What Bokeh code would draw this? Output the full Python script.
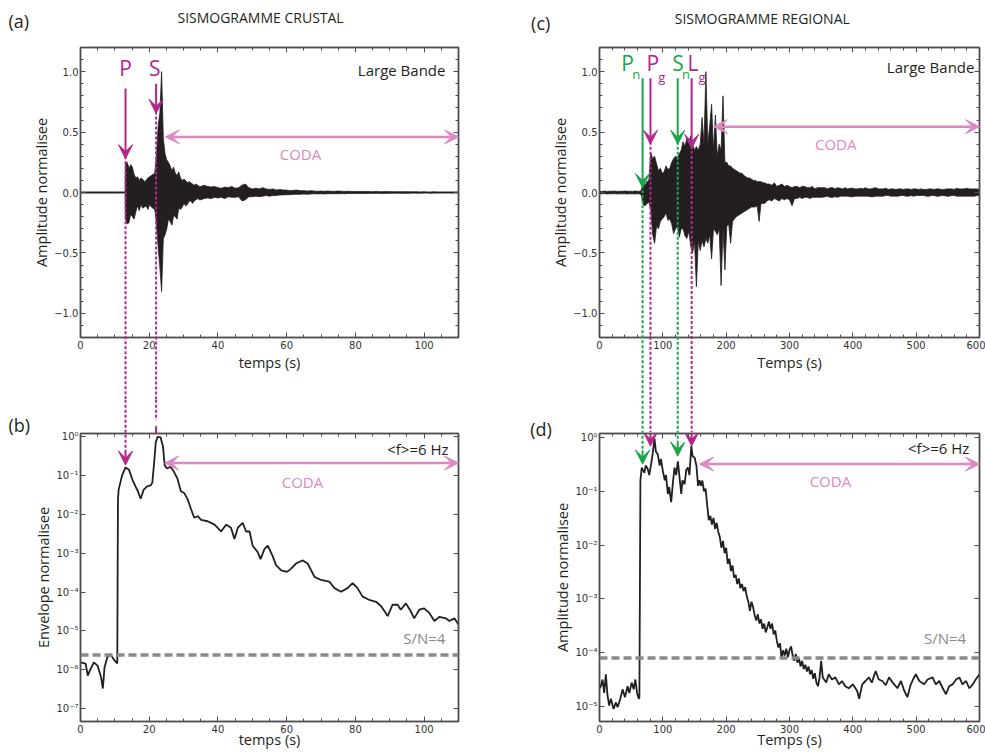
import numpy as np
from bokeh.plotting import figure
from bokeh.layouts import column, row
from bokeh.models import (Range1d, FixedTicker, CustomJSTickFormatter, LinearAxis, LogAxis,
                          Arrow, VeeHead, Span)
from bokeh.core.properties import value
from bokeh.embed import file_html
from bokeh.resources import INLINE

# ------------------------------------------------------------------ data
# Seismograms are given as min/max envelopes (top, bottom) per time sample,
# in blocks of (start time, time step, tops, bottoms).

# (a) crustal broadband seismogram (normalised amplitude)
seis_a_pre_t = [0.0, 13.0]
seis_a_pre_top = [0.005, 0.005]
seis_a_pre_bot = [-0.005, -0.005]
seis_a_main_start, seis_a_main_step = 13.1, 0.5
seis_a_main_top = [
    0.24, 0.25, 0.20, 0.23, 0.21, 0.15, 0.12, 0.13, 0.10, 0.12,
    0.11, 0.09, 0.10, 0.12, 0.13, 0.14, 0.15, 0.16, 0.30, 0.55,
    0.66, 1.00, 0.45, 0.32, 0.27, 0.25, 0.22, 0.18, 0.21, 0.16,
    0.14, 0.17, 0.12, 0.10, 0.11, 0.10, 0.08, 0.09, 0.08, 0.07,
    0.06, 0.07, 0.06, 0.05,
]
seis_a_main_bot = [
    -0.22, -0.26, -0.25, -0.18, -0.20, -0.22, -0.16, -0.11, -0.15, -0.10,
    -0.13, -0.12, -0.11, -0.14, -0.10, -0.12, -0.13, -0.14, -0.25, -0.45,
    -0.62, -0.82, -0.38, -0.35, -0.30, -0.22, -0.24, -0.27, -0.19, -0.20,
    -0.22, -0.13, -0.14, -0.12, -0.09, -0.11, -0.10, -0.07, -0.07, -0.09,
    -0.07, -0.06, -0.05, -0.06,
]
seis_a_tail_start, seis_a_tail_step = 35.0, 1.0
seis_a_tail_top = [
    0.05, 0.06, 0.05, 0.045, 0.05, 0.04, 0.035, 0.045, 0.04, 0.05,
    0.035, 0.04, 0.06, 0.07, 0.04, 0.03, 0.035, 0.03, 0.04, 0.03,
    0.025, 0.03, 0.02, 0.025, 0.02, 0.02, 0.015, 0.018, 0.02, 0.015,
    0.015, 0.012, 0.015, 0.012, 0.01, 0.012, 0.01, 0.012, 0.01, 0.01,
    0.012, 0.01, 0.009, 0.01, 0.008, 0.009, 0.008, 0.008, 0.009, 0.008,
    0.007, 0.008, 0.007, 0.007, 0.008, 0.007, 0.006, 0.007, 0.006, 0.006,
    0.007, 0.006, 0.006, 0.006, 0.005, 0.006, 0.005, 0.005, 0.006, 0.005,
    0.005, 0.005, 0.005, 0.005, 0.005, 0.005,
]
seis_a_tail_bot = [
    -0.06, -0.05, -0.045, -0.05, -0.04, -0.045, -0.04, -0.05, -0.035, -0.04,
    -0.04, -0.035, -0.07, -0.06, -0.035, -0.035, -0.03, -0.035, -0.03, -0.025,
    -0.03, -0.025, -0.025, -0.02, -0.02, -0.018, -0.018, -0.015, -0.015, -0.015,
    -0.012, -0.015, -0.012, -0.01, -0.012, -0.01, -0.012, -0.01, -0.01, -0.01,
    -0.01, -0.009, -0.01, -0.008, -0.009, -0.008, -0.008, -0.009, -0.008, -0.007,
    -0.008, -0.007, -0.007, -0.008, -0.007, -0.006, -0.007, -0.006, -0.006, -0.007,
    -0.006, -0.006, -0.005, -0.006, -0.006, -0.005, -0.005, -0.006, -0.005, -0.005,
    -0.005, -0.005, -0.005, -0.005, -0.005, -0.005,
]

# (b) crustal envelope (6 Hz), normalised
env_b_t = [
    0.0, 1.5, 2.1, 2.8, 3.9, 5.0, 6.0, 6.5, 7.0, 7.8,
    8.7, 9.9, 10.7, 10.9, 11.1, 12.1, 13.1, 14.1, 15.1, 16.0,
    16.7, 17.5, 18.4, 19.4, 20.4, 20.9, 21.4, 21.9, 22.4, 23.3,
    24.0, 24.5, 25.2, 26.2, 27.2, 28.2, 29.2, 30.2, 31.2, 32.2,
    33.1, 34.1, 35.1, 37.0, 39.0, 40.9, 42.4, 43.8, 44.8, 45.8,
    47.2, 48.2, 49.2, 50.1, 51.6, 52.4, 53.5, 54.5, 55.9, 56.9,
    58.4, 60.1, 61.3, 62.7, 64.7, 66.1, 68.1, 70.0, 72.4, 73.9,
    75.8, 77.7, 79.2, 80.6, 82.1, 84.0, 86.0, 87.5, 89.4, 90.8,
    92.3, 93.2, 94.7, 96.1, 97.1, 98.6, 100.0, 101.5, 103.0, 104.4,
    106.4, 107.3, 108.8, 110.0,
]
env_b = [
    1.55e-6, 1.45e-6, 7.1e-7, 1.0e-6, 1.55e-6, 1.26e-6, 6.3e-7, 3.3e-7, 1.17e-6, 2.1e-6,
    2.5e-6, 1.74e-6, 1.45e-6, 0.024, 0.043, 0.10, 0.16, 0.14, 0.078, 0.052,
    0.039, 0.025, 0.043, 0.052, 0.055, 0.065, 0.20, 0.70, 0.97, 0.95,
    0.55, 0.18, 0.15, 0.166, 0.123, 0.083, 0.039, 0.035, 0.024, 0.0132,
    0.0081, 0.0089, 0.0072, 0.0066, 0.0054, 0.0036, 0.0054, 0.0045, 0.0023, 0.0045,
    0.006, 0.0036, 0.0036, 0.00155, 0.00105, 0.0007, 0.00126, 0.00155, 0.00085, 0.00049,
    0.00036, 0.00033, 0.0004, 0.00054, 0.00065, 0.00054, 0.000245, 0.000204, 0.000186, 0.000126,
    0.000102, 0.000126, 0.00017, 0.000126, 7.6e-5, 6.3e-5, 5.6e-5, 4.3e-5, 2.4e-5, 4.7e-5,
    4.7e-5, 3.5e-5, 5.1e-5, 3.2e-5, 2.1e-5, 3.5e-5, 3.8e-5, 2.9e-5, 1.8e-5, 2.3e-5,
    2.1e-5, 1.8e-5, 2.1e-5, 1.45e-5,
]

# (c) regional broadband seismogram
seis_c_pre_start, seis_c_pre_step = 0.0, 4.0
seis_c_pre_top = [0.010, 0.008, 0.012, 0.009, 0.011, 0.010, 0.012, 0.009, 0.011,
                  0.010, 0.012, 0.010, 0.011, 0.009, 0.012, 0.010, 0.011]
seis_c_pre_bot = [-0.012, -0.010, -0.009, -0.012, -0.010, -0.011, -0.009, -0.012, -0.010,
                  -0.011, -0.010, -0.013, -0.010, -0.011, -0.012, -0.010, -0.012]
seis_c_main_start, seis_c_main_step = 66.0, 3.0
seis_c_main_top = [
    0.02, 0.07, 0.06, 0.09, 0.10, 0.33, 0.28, 0.30, 0.24, 0.18,
    0.20, 0.16, 0.17, 0.22, 0.19, 0.20, 0.25, 0.28, 0.30, 0.29,
    0.32, 0.35, 0.42, 0.38, 0.45, 0.40, 0.47, 0.40, 0.35, 0.38,
    0.35, 0.40, 0.62, 0.40, 1.00, 0.40, 0.55, 0.73, 0.35, 0.64,
    0.30, 0.40, 0.35, 0.80, 0.25, 0.25, 0.22, 0.22, 0.20, 0.19,
    0.18, 0.17, 0.16, 0.16, 0.14, 0.13, 0.12, 0.12, 0.11, 0.10,
    0.10, 0.09, 0.09, 0.09, 0.08, 0.08, 0.07,
]
seis_c_main_bot = [
    -0.02, -0.10, -0.11, -0.09, -0.08, -0.14, -0.35, -0.42, -0.28, -0.30,
    -0.24, -0.22, -0.20, -0.17, -0.23, -0.22, -0.26, -0.34, -0.30, -0.28,
    -0.37, -0.30, -0.30, -0.36, -0.38, -0.32, -0.44, -0.50, -0.40, -0.78,
    -0.40, -0.48, -0.40, -0.45, -0.38, -0.42, -0.35, -0.55, -0.30, -0.32,
    -0.35, -0.30, -0.77, -0.30, -0.64, -0.28, -0.26, -0.42, -0.24, -0.22,
    -0.20, -0.19, -0.18, -0.17, -0.16, -0.15, -0.14, -0.13, -0.12, -0.12,
    -0.12, -0.11, -0.24, -0.09, -0.09, -0.09, -0.07,
]
seis_c_tail_start, seis_c_tail_step = 268.0, 4.0
seis_c_tail_top = [
    0.07, 0.06, 0.08, 0.05, 0.06, 0.07, 0.05, 0.06, 0.05, 0.04,
    0.05, 0.05, 0.04, 0.05, 0.05, 0.04, 0.04, 0.05, 0.03, 0.04,
    0.04, 0.04, 0.04, 0.03, 0.04, 0.04, 0.03, 0.04, 0.035, 0.03,
    0.04, 0.03, 0.035, 0.035, 0.03, 0.03, 0.035, 0.03, 0.04, 0.03,
    0.03, 0.035, 0.04, 0.03, 0.03, 0.03, 0.035, 0.025, 0.03, 0.03,
    0.025, 0.03, 0.03, 0.025, 0.03, 0.03, 0.025, 0.03, 0.03, 0.025,
    0.03, 0.025, 0.025, 0.03, 0.03, 0.025, 0.03, 0.03, 0.025, 0.025,
    0.03, 0.03, 0.03, 0.025, 0.035, 0.03, 0.03, 0.03, 0.035, 0.03,
    0.03, 0.03, 0.03, 0.025,
]
seis_c_tail_bot = [
    -0.06, -0.07, -0.05, -0.06, -0.07, -0.05, -0.06, -0.05, -0.06, -0.11,
    -0.05, -0.05, -0.04, -0.05, -0.04, -0.04, -0.05, -0.04, -0.04, -0.04,
    -0.04, -0.04, -0.035, -0.03, -0.04, -0.04, -0.035, -0.04, -0.03, -0.03,
    -0.03, -0.03, -0.035, -0.035, -0.03, -0.03, -0.03, -0.03, -0.03, -0.03,
    -0.035, -0.035, -0.03, -0.03, -0.03, -0.03, -0.025, -0.025, -0.03, -0.03,
    -0.03, -0.03, -0.025, -0.025, -0.03, -0.03, -0.025, -0.03, -0.025, -0.025,
    -0.025, -0.025, -0.03, -0.03, -0.025, -0.025, -0.03, -0.03, -0.025, -0.025,
    -0.03, -0.03, -0.025, -0.025, -0.03, -0.03, -0.03, -0.03, -0.03, -0.03,
    -0.03, -0.03, -0.025, -0.025,
]

# (d) regional envelope (6 Hz), normalised
env_d_early_t = [
    0.0, 2.1, 4.8, 7.4, 10.0, 12.7, 15.3, 18.0, 22.2, 25.9,
    28.6, 32.8, 36.5, 40.2, 44.4, 47.1, 50.8, 54.0, 56.6, 59.3,
    62.0, 63.0, 64.6, 66.7, 70.9, 73.0, 76.2, 78.5, 81.5, 84.0,
    86.8, 89.0, 92.1, 95.0, 97.0, 100.0, 103.0, 105.0, 107.9, 110.0,
    113.2, 116.0, 118.5, 121.0, 123.8, 126.0, 129.1, 131.0, 134.4, 137.0,
    139.7, 142.0, 145.0, 147.0, 150.3, 153.0, 155.6, 158.0,
]
env_d_early = [
    2.2e-5, 2.4e-5, 3.2e-5, 1.8e-5, 4.0e-5, 1.6e-5, 1.05e-5, 1.4e-5, 9.1e-6, 1.2e-5,
    9.8e-6, 1.4e-5, 2.1e-5, 1.5e-5, 2.4e-5, 1.8e-5, 2.8e-5, 2.1e-5, 3.2e-5, 1.8e-5,
    1.4e-5, 1.5e-5, 0.16, 0.275, 0.22, 0.30, 0.26, 0.20, 0.32, 0.50,
    0.95, 0.55, 0.48, 0.30, 0.40, 0.24, 0.16, 0.20, 0.089, 0.12,
    0.063, 0.15, 0.275, 0.20, 0.36, 0.20, 0.089, 0.16, 0.135, 0.25,
    0.275, 0.20, 0.69, 0.45, 0.42, 0.30, 0.126, 0.16,
]
env_d_mid_start, env_d_mid_step = 160.0, 2.5
env_d_mid = [
    0.126, 0.158, 0.10, 0.112, 0.056, 0.029, 0.035, 0.024, 0.032, 0.020,
    0.026, 0.0178, 0.0141, 0.0089, 0.012, 0.0071, 0.0089, 0.0045, 0.0056, 0.0033,
    0.0042, 0.0025, 0.0028, 0.0019, 0.0024, 0.00158, 0.0019, 0.0014, 0.00166, 0.00112,
    0.00089, 0.0006, 0.00089, 0.00071, 0.0005, 0.0004, 0.00052, 0.00035, 0.00042, 0.00028,
    0.00035, 0.00024, 0.0003, 0.00038, 0.00028, 0.00035, 0.00022, 0.00026, 0.000166, 0.000126,
    0.00015, 7.9e-5, 0.000112, 8.9e-5, 0.00012, 8.3e-5, 0.000112, 0.000132, 8.9e-5, 7.1e-5,
    9.5e-5, 6.6e-5, 7.9e-5, 5.6e-5, 7.1e-5, 5.0e-5, 6.0e-5, 4.5e-5, 5.6e-5, 4.0e-5,
    4.8e-5, 3.3e-5, 4.2e-5, 2.8e-5, 2.4e-5, 3.5e-5, 7.1e-5, 3.5e-5,
]
env_d_late_t = [
    358.0, 361.9, 367.0, 372.5, 378.0, 383.1, 388.0, 393.7, 400.0, 406.9,
    410.0, 414.8, 420.0, 425.4, 430.0, 436.0, 441.0, 446.6, 452.0, 457.1,
    463.0, 470.4, 476.0, 481.0, 486.2, 491.0, 495.0, 499.5, 505.0, 512.7,
    518.0, 525.9, 531.0, 536.5, 542.0, 547.1, 552.0, 557.6, 563.0, 568.3,
    573.0, 578.8, 584.0, 589.4, 594.0, 600.0,
]
env_d_late = [
    2.8e-5, 4.0e-5, 3.2e-5, 3.5e-5, 2.6e-5, 3.0e-5, 2.4e-5, 2.2e-5, 2.6e-5, 1.95e-5,
    1.4e-5, 2.6e-5, 3.0e-5, 3.5e-5, 2.8e-5, 4.6e-5, 3.2e-5, 3.0e-5, 2.5e-5, 3.5e-5,
    2.8e-5, 2.2e-5, 3.0e-5, 2.0e-5, 1.5e-5, 2.5e-5, 3.2e-5, 4.0e-5, 3.0e-5, 2.6e-5,
    3.2e-5, 3.5e-5, 2.6e-5, 3.0e-5, 2.2e-5, 1.7e-5, 2.4e-5, 2.6e-5, 3.2e-5, 3.5e-5,
    2.6e-5, 3.0e-5, 2.2e-5, 2.6e-5, 3.2e-5, 4.0e-5,
]

# phase arrival times (s)
t_P, t_S = 13.1, 22.0
t_Pn, t_Pg, t_Sn, t_Lg = 68.0, 80.5, 123.5, 145.5
# signal-to-noise threshold levels
sn_b = 2.4e-6
sn_d = 8.0e-5

# tick positions
xt_crust = [0, 20, 40, 60, 80, 100]
xt_crust_minor = [5 * i for i in range(23)]
xt_reg = [0, 100, 200, 300, 400, 500, 600]
xt_reg_minor = [20 * i for i in range(31)]
yt_lin = [-1.0, -0.5, 0.0, 0.5, 1.0]
yt_lin_minor = [round(-1.2 + 0.1 * i, 2) for i in range(25)]
yt_log_b = [1e-7, 1e-6, 1e-5, 1e-4, 1e-3, 1e-2, 1e-1, 1.0]
yt_log_d = [1e-5, 1e-4, 1e-3, 1e-2, 1e-1, 1.0]

# ------------------------------------------------------------------ style
INK = "#231f20"
MAG = "#b4258d"
GRN = "#1ba44b"
PINK = "#dc88c1"
GRAY = "#8a8a8a"
AXC = "#4d4d4d"
SANS = "Open Sans"

fmt_lin = CustomJSTickFormatter(code="return tick.toFixed(1).replace('-', '\u2212');")
fmt_log = CustomJSTickFormatter(code="""
const sup = {'-': '\u207b', '0': '\u2070', '1': '\u00b9', '2': '\u00b2', '3': '\u00b3',
             '4': '\u2074', '5': '\u2075', '6': '\u2076', '7': '\u2077', '8': '\u2078', '9': '\u2079'};
const e = Math.round(Math.log10(tick));
return '10' + String(e).split('').map(c => sup[c]).join('');
""")


def style_axis(ax, ticks, minor, labels, fmt=None):
    ax.ticker = FixedTicker(ticks=ticks, minor_ticks=minor)
    ax.major_tick_in = 5
    ax.major_tick_out = 0
    ax.minor_tick_in = 3
    ax.minor_tick_out = 0
    ax.axis_line_color = AXC
    ax.axis_line_width = 1.5
    ax.major_tick_line_color = AXC
    ax.minor_tick_line_color = AXC
    ax.major_tick_line_width = 1
    ax.minor_tick_line_width = 1
    if labels:
        ax.major_label_text_font = "DejaVu Sans"
        ax.major_label_text_font_size = "10px"
        ax.major_label_text_color = "#333333"
        ax.major_label_standoff = 2
        if fmt is not None:
            ax.formatter = fmt
    else:
        ax.formatter = CustomJSTickFormatter(code="return '';")
        ax.major_label_text_font_size = "0px"
        ax.major_label_standoff = 0


def make_panel(w, h, xr, yr, ylog, borders, xt, xminor, yt, yminor, xlabel, ylabel, yfmt,
               x_label_standoff):
    bl, br, bt, bb = borders
    p = figure(width=w, height=h, x_range=Range1d(*xr), y_range=Range1d(*yr),
               y_axis_type="log" if ylog else "linear",
               output_backend="svg", toolbar_location=None,
               min_border_left=bl, min_border_right=br, min_border_top=bt, min_border_bottom=bb,
               outline_line_color="#6a6a6a", outline_line_width=1.5,
               background_fill_color="white", border_fill_color="white")
    p.grid.visible = False
    xa = p.xaxis[0]
    ya = p.yaxis[0]
    style_axis(xa, xt, xminor, True)
    style_axis(ya, yt, yminor, True, yfmt)
    xa.major_label_standoff = 3
    xa.axis_label = xlabel
    ya.axis_label = ylabel
    for a in (xa, ya):
        a.axis_label_text_font = SANS
        a.axis_label_text_font_size = "14.5px"
        a.axis_label_text_font_style = "normal"
        a.axis_label_text_color = INK
    ya.axis_label_standoff = 0
    xa.axis_label_standoff = x_label_standoff
    top = LinearAxis()
    style_axis(top, xt, xminor, False)
    right = LogAxis() if ylog else LinearAxis()
    style_axis(right, yt, yminor, False)
    p.add_layout(top, "above")
    p.add_layout(right, "right")
    return p


def txt(p, x, y, s, size, color, align="center"):
    p.text(x=[x], y=[y], text=[s], text_font=value(SANS), text_font_size=value(size),
           text_color=color, text_align=align, text_baseline="middle", level="overlay")


def arrow(p, x, y0, y1, color, size=14, width=2):
    p.add_layout(Arrow(end=VeeHead(size=size, fill_color=color, line_color=color, line_width=1),
                       x_start=x, y_start=y0, x_end=x, y_end=y1,
                       line_color=color, line_width=width, level="overlay"))


def dashed(p, x, y0, y1, color):
    p.segment(x0=[x], y0=[y0], x1=[x], y1=[y1], line_color=color, line_width=2,
              line_dash="3 2", level="overlay")


def coda(p, x0, x1, y):
    p.add_layout(Arrow(start=VeeHead(size=14, fill_color=PINK, line_color=PINK, line_width=1),
                       end=VeeHead(size=14, fill_color=PINK, line_color=PINK, line_width=1),
                       x_start=x0, y_start=y, x_end=x1, y_end=y,
                       line_color=PINK, line_width=2.5, level="overlay"))


def blocks(*parts):
    ts, tops, bots = [], [], []
    for start, step, top, bot in parts:
        ts.append(start + step * np.arange(len(top)))
        tops.append(np.asarray(top, dtype=float))
        bots.append(np.asarray(bot, dtype=float))
    return np.concatenate(ts), np.concatenate(tops), np.concatenate(bots)


def draw_seis(p, t, top, bot):
    p.varea(x=t, y1=bot, y2=top, fill_color=INK)
    p.line(t, top, line_color=INK, line_width=0.8)
    p.line(t, bot, line_color=INK, line_width=0.8)


# ------------------------------------------------------------------ (a)
pa = make_panel(498, 400, (0, 110), (-1.2, 1.2), False, (80, 40, 47, 61),
                xt_crust, xt_crust_minor, yt_lin, yt_lin_minor,
                "temps (s)", "Amplitude normalisee", fmt_lin, 1)
ta, topa, bota = blocks((seis_a_main_start, seis_a_main_step, seis_a_main_top, seis_a_main_bot),
                        (seis_a_tail_start, seis_a_tail_step, seis_a_tail_top, seis_a_tail_bot))
ta = np.concatenate([seis_a_pre_t, ta])
topa = np.concatenate([seis_a_pre_top, topa])
bota = np.concatenate([seis_a_pre_bot, bota])
draw_seis(pa, ta, topa, bota)
txt(pa, -20.95, 1.42, "(a)", "18px", INK, "left")
txt(pa, 52.4, 1.45, "SISMOGRAMME CRUSTAL", "14px", INK)
txt(pa, 13.1, 1.03, "P", "21px", MAG)
txt(pa, 21.6, 1.03, "S", "21px", MAG)
txt(pa, 106.2, 1.016, "Large Bande", "15px", INK, "right")
txt(pa, 64.0, 0.32, "CODA", "15px", PINK)
dashed(pa, t_P, 0.30, -3.0, MAG)
dashed(pa, t_S, 0.67, -3.0, MAG)
arrow(pa, t_P, 0.86, 0.28, MAG)
arrow(pa, t_S, 0.90, 0.655, MAG)
coda(pa, 24.7, 110, 0.46)

# ------------------------------------------------------------------ (b)
pb = make_panel(498, 355, (0, 110), (4.68e-8, 1.191), True, (80, 40, 33, 30),
                xt_crust, xt_crust_minor, yt_log_b, [],
                "temps (s)", "Envelope normalisee", fmt_log, -6)
pb.add_layout(Span(location=sn_b, dimension="width", line_color=GRAY, line_width=3.5,
                   line_dash="8 4"))
pb.line(env_b_t, env_b, line_color=INK, line_width=1.8)
txt(pb, -20.95, 1.93, "(b)", "18px", INK, "left")
txt(pb, 107.1, 0.468, "<f>=6 Hz", "15px", INK, "right")
txt(pb, 64.6, 0.068, "CODA", "15px", PINK)
txt(pb, 106.2, 6.7e-6, "S/N=4", "15px", GRAY, "right")
dashed(pb, t_P, 1e3, 0.40, MAG)
dashed(pb, t_S, 1e3, 2.6, MAG)
arrow(pb, t_P, 0.40, 0.184, MAG)
arrow(pb, t_S, 2.6, 1.19, MAG)
coda(pb, 24.5, 110, 0.207)

# ------------------------------------------------------------------ (c)
pc = make_panel(487, 400, (0, 600), (-1.2, 1.2), False, (101, 6, 45, 63),
                xt_reg, xt_reg_minor, yt_lin, yt_lin_minor,
                "Temps (s)", "Amplitude normalisee", fmt_lin, 1)
tc, topc, botc = blocks((seis_c_pre_start, seis_c_pre_step, seis_c_pre_top, seis_c_pre_bot),
                        (seis_c_main_start, seis_c_main_step, seis_c_main_top, seis_c_main_bot),
                        (seis_c_tail_start, seis_c_tail_step, seis_c_tail_top, seis_c_tail_bot))
draw_seis(pc, tc, topc, botc)
txt(pc, -108.0, 1.406, "(c)", "18px", INK, "left")
txt(pc, 257.0, 1.443, "SISMOGRAMME REGIONAL", "14px", INK)
for s, x, y, col, size in [("P", 44.4, 1.068, GRN, "21px"), ("n", 58.0, 0.98, GRN, "13px"),
                           ("P", 84.1, 1.068, MAG, "21px"), ("g", 98.4, 0.96, MAG, "13px"),
                           ("S", 123.8, 1.068, GRN, "21px"), ("n", 136.5, 0.98, GRN, "13px"),
                           ("L", 147.6, 1.068, MAG, "21px"), ("g", 161.9, 0.96, MAG, "13px")]:
    txt(pc, x, y, s, size, col)
txt(pc, 592.0, 1.04, "Large Bande", "15px", INK, "right")
txt(pc, 373.0, 0.40, "CODA", "15px", PINK)
for t, tip, col in [(t_Pn, 0.04, GRN), (t_Pg, 0.40, MAG), (t_Sn, 0.40, GRN), (t_Lg, 0.365, MAG)]:
    dashed(pc, t, tip + 0.02, -3.0, col)
    arrow(pc, t, 0.945, tip, col)
coda(pc, 179.8, 600, 0.545)

# ------------------------------------------------------------------ (d)
pd = make_panel(487, 355, (0, 600), (5.31e-6, 1.183), True, (101, 6, 29, 34),
                xt_reg, xt_reg_minor, yt_log_d, [],
                "Temps (s)", "Amplitude normalisee", fmt_log, -6)
pd.add_layout(Span(location=sn_d, dimension="width", line_color=GRAY, line_width=3.5,
                   line_dash="8 4"))
td = np.concatenate([env_d_early_t,
                     env_d_mid_start + env_d_mid_step * np.arange(len(env_d_mid)),
                     env_d_late_t])
vd = np.concatenate([env_d_early, env_d_mid, env_d_late])
pd.line(td, vd, line_color=INK, line_width=1.8)
txt(pd, -109.5, 1.46, "(d)", "18px", INK, "left")
txt(pd, 584.0, 0.65, "<f>=6 Hz", "15px", INK, "right")
txt(pd, 364.6, 0.158, "CODA", "15px", PINK)
txt(pd, 579.0, 1.86e-4, "S/N=4", "15px", GRAY, "right")
for t, tip, col in [(t_Pn, 0.32, GRN), (t_Pg, 0.69, MAG), (t_Sn, 0.45, GRN), (t_Lg, 0.69, MAG)]:
    dashed(pd, t, 1e3, tip * 1.8, col)
    arrow(pd, t, tip * 1.8, tip, col)
coda(pd, 158.0, 600, 0.32)

layout = column(row(pa, pc), row(pb, pd))
open("out.html", "w").write(file_html(layout, INLINE))
